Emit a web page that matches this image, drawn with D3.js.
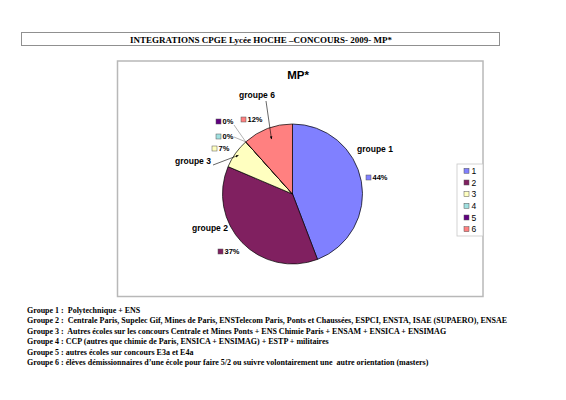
<!DOCTYPE html>
<html>
<head>
<meta charset="utf-8">
<script src="https://cdn.jsdelivr.net/npm/d3@7"></script>
<style>
  body { margin: 0; background: #fff; }
  svg { display: block; }
  .pie-label { font-family: Arial, "Liberation Sans", sans-serif; font-weight: bold; fill: #000; }
  .note { font-family: "Liberation Serif", "Times New Roman", serif; font-weight: bold; font-size: 8px; fill: #000; white-space: pre; }
</style>
</head>
<body>
<svg id="chart" width="566" height="400"></svg>
<script>
// effectifs par groupe (classe de 43 élèves)
const groups = ['1', '2', '3', '4', '5', '6'];
const counts = [19, 16, 3, 0, 0, 5];
const groupNames = ['groupe 1', 'groupe 2', 'groupe 3', 'groupe 4', 'groupe 5', 'groupe 6'];
const colors = ['#8080ff', '#802060', '#ffffc0', '#a0e0e0', '#600080', '#ff8080'];

const notes = [
  'Groupe 1 :  Polytechnique + ENS',
  'Groupe 2 :  Centrale Paris, Supelec Gif, Mines de Paris, ENSTelecom Paris, Ponts et Chaussées, ESPCI, ENSTA, ISAE (SUPAERO), ENSAE',
  'Groupe 3 :  Autres écoles sur les concours Centrale et Mines Ponts + ENS Chimie Paris + ENSAM + ENSICA + ENSIMAG',
  'Groupe 4 : CCP (autres que chimie de Paris, ENSICA + ENSIMAG) + ESTP + militaires',
  'Groupe 5 : autres écoles sur concours E3a et E4a',
  'Groupe 6 : élèves démissionnaires d\u2019une école pour faire 5/2 ou suivre volontairement une  autre orientation (masters)'
];

const svg = d3.select('#chart');
const cx = 292.5;
const cy = 194;
const radius = 70;

// title banner
svg.append('rect')
  .attr('x', 21.5).attr('y', 32.5)
  .attr('width', 478).attr('height', 13)
  .attr('fill', '#fff').attr('stroke', '#909090').attr('stroke-width', 1);
svg.append('text')
  .attr('x', 261).attr('y', 42.5)
  .attr('text-anchor', 'middle')
  .attr('class', 'note')
  .style('font-size', '9px')
  .text('INTEGRATIONS CPGE Lycée HOCHE \u2013CONCOURS- 2009- MP*');

// chart frame
svg.append('rect')
  .attr('x', 117.5).attr('y', 61)
  .attr('width', 365.5).attr('height', 235.5)
  .attr('fill', '#fff').attr('stroke', '#b8b8b8').attr('stroke-width', 1.5);

svg.append('text')
  .attr('x', 298).attr('y', 79)
  .attr('text-anchor', 'middle')
  .attr('class', 'pie-label')
  .style('font-size', '11.5px')
  .text('MP*');

const total = d3.sum(counts);
const pie = d3.pie().sort(null).value(d => d)(counts);
const arc = d3.arc().innerRadius(0).outerRadius(radius);

const g = svg.append('g').attr('transform', `translate(${cx},${cy})`);

g.selectAll('path')
  .data(pie)
  .enter()
  .append('path')
  .attr('d', arc)
  .attr('fill', (d, i) => colors[i])
  .attr('stroke', '#000')
  .attr('stroke-width', 0.7);

// point on the pie at angle a (radians, clockwise from top) and fraction k of radius
const polar = (a, k) => [cx + Math.sin(a) * radius * k, cy - Math.cos(a) * radius * k];

// percent label placement (label anchor positions)
const pctPos = [[366, 178], [218, 252], [212, 149], [216, 137], [216, 122], [241, 120]];

const pctLabels = svg.append('g');
pie.forEach((d, i) => {
  const [x, y] = pctPos[i];
  pctLabels.append('rect')
    .attr('x', x).attr('y', y - 3)
    .attr('width', 5).attr('height', 5)
    .attr('fill', colors[i]).attr('stroke', '#555').attr('stroke-width', 0.5);
  pctLabels.append('text')
    .attr('class', 'pie-label')
    .attr('x', x + 6.5).attr('y', y + 2.4)
    .style('font-size', '7.5px')
    .text(`${Math.round(counts[i] / total * 100)}%`);
});

// leader lines for the empty slices
[3, 4].forEach(i => {
  const [x, y] = pctPos[i];
  const [tx, ty] = polar(pie[i].startAngle, 1);
  pctLabels.append('line')
    .attr('x1', x + 18).attr('y1', y + (i === 4 ? 3 : 0))
    .attr('x2', tx).attr('y2', ty)
    .attr('stroke', '#666').attr('stroke-width', 0.5);
});

// group name labels
const namePos = { 0: [357, 152], 1: [192, 231], 2: [175, 164], 5: [239, 98] };
const arrowTo = { 2: 0.95, 5: 0.84 };

const defs = svg.append('defs');
defs.append('marker')
  .attr('id', 'arrow')
  .attr('viewBox', '0 0 10 10')
  .attr('refX', 9).attr('refY', 5)
  .attr('markerWidth', 5).attr('markerHeight', 5)
  .attr('orient', 'auto')
  .append('path')
  .attr('d', 'M0,1 L10,5 L0,9 Z')
  .attr('fill', '#000');

Object.keys(namePos).forEach(k => {
  const i = +k;
  const [x, y] = namePos[i];
  svg.append('text')
    .attr('class', 'pie-label')
    .attr('x', x).attr('y', y)
    .style('font-size', '8.5px')
    .text(groupNames[i]);
  if (arrowTo[i]) {
    const mid = (pie[i].startAngle + pie[i].endAngle) / 2;
    const [tx, ty] = polar(mid, arrowTo[i]);
    const sx = i === 5 ? x + 27 : x + 38;
    const sy = i === 5 ? y + 3 : y + 1;
    svg.append('line')
      .attr('x1', sx).attr('y1', sy)
      .attr('x2', tx).attr('y2', ty)
      .attr('stroke', '#000').attr('stroke-width', 0.6)
      .attr('marker-end', 'url(#arrow)');
  }
});

// legend
const legend = svg.append('g').attr('transform', 'translate(457,164)');
legend.append('rect')
  .attr('width', 26).attr('height', 72)
  .attr('fill', '#fff').attr('stroke', '#c8c8c8').attr('stroke-width', 0.8);
const rowY = d3.scaleBand().domain(groups).range([1, 71]);
groups.forEach((gname, i) => {
  const y = rowY(gname) + rowY.bandwidth() / 2;
  legend.append('rect')
    .attr('x', 7).attr('y', y - 2.5)
    .attr('width', 5).attr('height', 5)
    .attr('fill', colors[i]).attr('stroke', '#555').attr('stroke-width', 0.5);
  legend.append('text')
    .attr('x', 14.5).attr('y', y + 3)
    .style('font-family', 'Arial, "Liberation Sans", sans-serif')
    .style('font-size', '8.5px')
    .text(gname);
});

// footnotes
svg.append('g')
  .selectAll('text')
  .data(notes)
  .enter()
  .append('text')
  .attr('class', 'note')
  .attr('x', 27)
  .attr('y', (d, i) => 313 + i * 10.4)
  .text(d => d);
</script>
</body>
</html>
